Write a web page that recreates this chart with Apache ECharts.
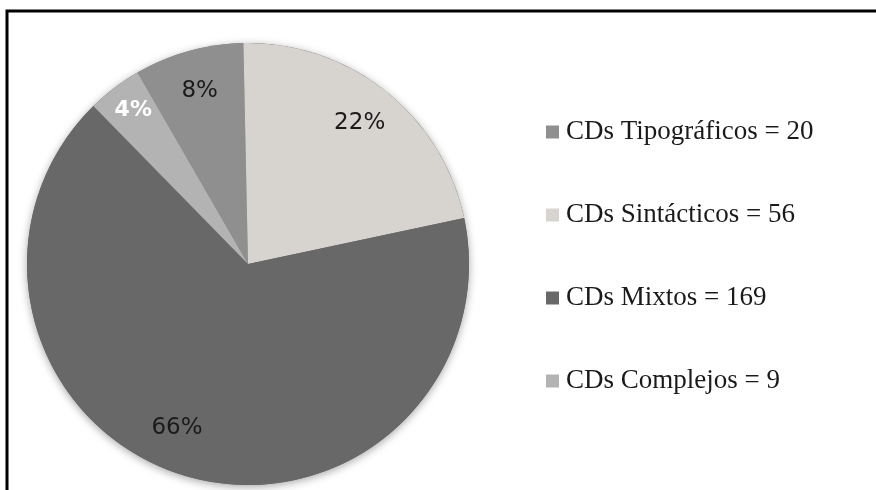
<!DOCTYPE html>
<html>
<head>
<meta charset="utf-8">
<script src="https://cdn.jsdelivr.net/npm/echarts@6/dist/echarts.min.js"></script>
<style>
  html, body { margin: 0; padding: 0; background: #fff; }
  #chart { width: 876px; height: 490px; }
</style>
</head>
<body>
<div id="chart"></div>
<script>
// Distribution of CDs by type
const categories = ['CDs Tipográficos', 'CDs Sintácticos', 'CDs Mixtos', 'CDs Complejos'];
const counts = [20, 56, 169, 9];
const shares = [8, 22, 66, 4];          // percent of total, as labelled
const sliceColors = ['#8f8f8f', '#d7d4d0', '#686868', '#b3b3b3'];
const labelColors = ['#1a1a1a', '#1a1a1a', '#1a1a1a', '#ffffff'];

const legendNames = categories.map((c, i) => c + ' = ' + counts[i]);

const CENTER = [248, 264];
const R = 221;
const START = 120;

const sliceData = legendNames.map((name, i) => ({
  name: name,
  value: shares[i],
  itemStyle: { color: sliceColors[i] }
}));

const labelData = legendNames.map((name, i) => ({
  name: name,
  value: shares[i],
  label: {
    color: labelColors[i],
    fontWeight: i === 3 ? 'bold' : 'normal',
    fontSize: i === 3 ? 22 : 23,
    offset: i === 3 ? [-6, -11] : (i === 2 ? [-19, -8] : [0, 0])
  }
}));

const chart = echarts.init(document.getElementById('chart'), null, { renderer: 'canvas' });

chart.setOption({
  animation: false,
  backgroundColor: '#ffffff',
  graphic: [{
    type: 'polyline',
    shape: { points: [[7, 490], [7, 11], [876, 11]] },
    style: { stroke: '#000', lineWidth: 3, fill: null },
    z: 100
  }],
  legend: {
    orient: 'vertical',
    left: 546,
    top: 117,
    padding: 0,
    itemWidth: 13,
    itemHeight: 13,
    itemGap: 53,
    icon: 'rect',
    selectedMode: false,
    data: legendNames,
    textStyle: {
      fontFamily: 'Liberation Serif',
      fontSize: 27,
      color: '#1a1a1a',
      lineHeight: 30,
      padding: [0, 0, 0, 2]
    }
  },
  series: [
    {
      // soft shadow under the whole disc
      type: 'pie',
      silent: true,
      center: CENTER,
      radius: [0, R],
      startAngle: START,
      label: { show: false },
      labelLine: { show: false },
      legendHoverLink: false,
      data: [{ name: '', value: shares.reduce((a, b) => a + b, 0) }],
      itemStyle: {
        color: '#686868',
        shadowBlur: 9,
        shadowColor: 'rgba(0,0,0,0.35)',
        shadowOffsetY: 2
      },
      z: 1
    },
    {
      type: 'pie',
      center: CENTER,
      radius: [0, R],
      startAngle: START,
      clockwise: true,
      avoidLabelOverlap: false,
      label: { show: false },
      labelLine: { show: false },
      itemStyle: { borderWidth: 0 },
      emphasis: { disabled: true },
      data: sliceData,
      z: 2
    },
    {
      // transparent ring that carries the percentage labels
      type: 'pie',
      silent: true,
      center: CENTER,
      radius: [R * 0.6, R],
      startAngle: START,
      clockwise: true,
      avoidLabelOverlap: false,
      legendHoverLink: false,
      itemStyle: { color: 'rgba(0,0,0,0)', borderWidth: 0 },
      emphasis: { disabled: true },
      label: {
        show: true,
        position: 'inside',
        fontFamily: 'DejaVu Sans',
        formatter: p => p.value + '%'
      },
      labelLine: { show: false },
      data: labelData,
      z: 3
    }
  ]
});
</script>
</body>
</html>
